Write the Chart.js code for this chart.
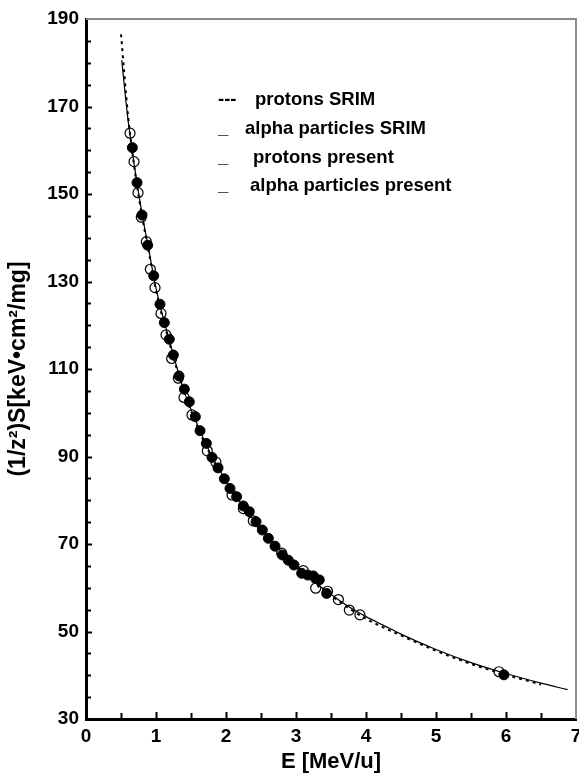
<!DOCTYPE html>
<html>
<head>
<meta charset="utf-8">
<script src="https://cdn.jsdelivr.net/npm/chart.js@4.4.0/dist/chart.umd.min.js"></script>
<style>
	html, body { margin: 0; padding: 0; background: #ffffff; }
	canvas { display: block; }
</style>
</head>
<body>
<canvas id="myChart" width="579" height="776"></canvas>
<script>
// Data (E in MeV/u, S/z^2 in keV cm2/mg)
const srimAlphaE = [0.51, 0.6, 0.7, 0.8, 0.9, 1.0, 1.2, 1.4, 1.6, 1.8, 2.0, 2.25, 2.5, 2.75, 3.0, 3.25, 3.5, 3.75, 4.0, 4.25, 4.5, 5.0, 5.5, 6.0, 6.5, 6.88];
const srimAlphaS = [180.6, 167, 155.5, 145.5, 137, 128.5, 116, 105, 97, 90, 84.5, 78.5, 73.5, 69, 65, 61.5, 58.5, 55.7, 53.4, 51.4, 49.4, 45.9, 42.9, 40.4, 38.2, 36.7];

const srimProtonE = [0.5, 0.6, 0.7, 0.8, 0.9, 1.0, 1.2, 1.4, 1.6, 1.8, 2.0, 2.25, 2.5, 2.75, 3.0, 3.25, 3.5, 3.75, 4.0, 4.5, 5.0, 5.5, 6.0, 6.5];
const srimProtonS = [186.5, 168, 155, 145, 136.5, 128, 115.5, 104.8, 96.5, 89.7, 84, 78, 73, 68.7, 64.7, 61.2, 58.2, 55.4, 52.9, 49.1, 45.6, 42.6, 40.1, 37.9];

const protonPresentE = [0.629, 0.686, 0.743, 0.79, 0.862, 0.919, 0.986, 1.071, 1.143, 1.224, 1.319, 1.4, 1.514, 1.733, 1.857, 2.086, 2.248, 2.39, 2.795, 3.105, 3.281, 3.45, 3.605, 3.762, 3.914, 5.9];
const protonPresentS = [163.9, 157.4, 150.3, 144.7, 139.1, 132.8, 128.6, 122.7, 117.8, 112.4, 107.9, 103.5, 99.5, 91.3, 88.7, 81.2, 78.1, 75.3, 67.9, 63.9, 59.9, 59.2, 57.3, 54.9, 53.8, 40.8];

const alphaPresentE = [0.662, 0.729, 0.8, 0.881, 0.967, 1.057, 1.119, 1.19, 1.248, 1.329, 1.405, 1.476, 1.562, 1.629, 1.719, 1.8, 1.886, 1.976, 2.057, 2.152, 2.248, 2.333, 2.429, 2.519, 2.605, 2.7, 2.805, 2.89, 2.971, 3.081, 3.167, 3.248, 3.333, 3.438, 5.97];
const alphaPresentS = [160.6, 152.6, 145.2, 138.3, 131.3, 124.8, 120.6, 116.8, 113.2, 108.4, 105.4, 102.5, 99.1, 95.9, 93.0, 89.8, 87.4, 84.9, 82.7, 80.8, 78.7, 77.4, 75.1, 73.2, 71.3, 69.5, 67.5, 66.3, 65.2, 63.3, 62.9, 62.7, 61.8, 58.7, 40.1];

const xTicks = [0, 1, 2, 3, 4, 5, 6, 7];
const yTicks = [30, 50, 70, 90, 110, 130, 150, 170, 190];

const legendMarks = ["---", "_", "_", "_"];
const legendLabels = ["protons SRIM", "alpha particles SRIM", "protons present", "alpha particles present"];

function pts(xs, ys) {
	return xs.map((v, i) => ({ x: v, y: ys[i] }));
}

const FONT = "'Liberation Sans', Arial, Helvetica, sans-serif";
const X_TICK_PAD = 6.6;
const Y_TICK_PAD = 7;

// top/right frame and inward tick marks
const frameTicks = {
	id: "frameTicks",
	afterDraw(chart) {
		const ctx = chart.ctx;
		const a = chart.chartArea;
		const x = chart.scales.x;
		const y = chart.scales.y;
		ctx.save();
		ctx.strokeStyle = "#8c8c8c";
		ctx.lineWidth = 2;
		ctx.beginPath();
		ctx.moveTo(a.left, a.top);
		ctx.lineTo(a.right, a.top);
		ctx.lineTo(a.right, a.bottom);
		ctx.stroke();

		ctx.strokeStyle = "#000";
		ctx.lineWidth = 2;
		ctx.beginPath();
		for (let v = 0.5; v < 7; v += 0.5) {
			const px = Math.round(x.getPixelForValue(v)) + 0.5;
			const len = v % 1 === 0 ? 7 : 6;
			ctx.moveTo(px, a.bottom);
			ctx.lineTo(px, a.bottom - len);
		}
		for (let v = 35; v < 190; v += 5) {
			const py = Math.round(y.getPixelForValue(v)) + 0.5;
			const len = v % 20 === 10 ? 6 : 5;
			ctx.moveTo(a.left, py);
			ctx.lineTo(a.left + len, py);
		}
		ctx.stroke();
		ctx.restore();
	},
};

// text legend as in the figure
const textLegend = {
	id: "textLegend",
	afterDraw(chart) {
		const ctx = chart.ctx;
		const rowsY = [100, 129, 158, 186];
		const labelX = [255, 245, 253, 250];
		ctx.save();
		ctx.fillStyle = "#000";
		ctx.font = "bold 18.5px " + FONT;
		ctx.textBaseline = "middle";
		ctx.textAlign = "left";
		legendLabels.forEach((t, i) => {
			ctx.fillText(legendMarks[i], 218, rowsY[i]);
			ctx.fillText(t, labelX[i], rowsY[i]);
		});
		ctx.restore();
	},
};

const ctx = document.getElementById("myChart").getContext("2d");
const myChart = new Chart(ctx, {
	type: "scatter",
	data: {
		datasets: [
			{
				label: "alpha particles present",
				data: pts(alphaPresentE, alphaPresentS),
				pointStyle: "circle",
				pointRadius: 5,
				pointBackgroundColor: "#000",
				pointBorderColor: "#000",
				pointBorderWidth: 1,
				showLine: false,
			},
			{
				label: "protons present",
				data: pts(protonPresentE, protonPresentS),
				pointStyle: "circle",
				pointRadius: 5,
				pointBackgroundColor: "rgba(0,0,0,0)",
				pointBorderColor: "#000",
				pointBorderWidth: 1.2,
				showLine: false,
			},
			{
				label: "protons SRIM",
				data: pts(srimProtonE, srimProtonS),
				showLine: true,
				borderColor: "#000",
				borderWidth: 2,
				borderDash: [3, 4],
				cubicInterpolationMode: "monotone",
				pointRadius: 0,
				fill: false,
			},
			{
				label: "alpha particles SRIM",
				data: pts(srimAlphaE, srimAlphaS),
				showLine: true,
				borderColor: "#000",
				borderWidth: 1.2,
				cubicInterpolationMode: "monotone",
				pointRadius: 0,
				fill: false,
			},
		],
	},
	options: {
		responsive: false,
		animation: false,
		layout: {
			autoPadding: false,
			padding: { top: 19, right: 3, left: 3, bottom: 0 },
		},
		plugins: {
			legend: { display: false },
			tooltip: { enabled: false },
		},
		scales: {
			x: {
				type: "linear",
				min: 0,
				max: 7,
				afterFit: (s) => {
					s.paddingLeft = 0;
					s.paddingRight = 0;
					s.height -= X_TICK_PAD;
				},
				afterBuildTicks: (s) => {
					s.ticks = xTicks.map((v) => ({ value: v }));
				},
				grid: { display: false, drawTicks: false },
				border: { display: true, color: "#000", width: 3 },
				ticks: {
					color: "#000",
					padding: X_TICK_PAD,
					font: { family: FONT, size: 19, weight: "bold" },
				},
				title: {
					display: true,
					text: "E [MeV/u]",
					color: "#000",
					padding: { top: 0.4, bottom: 0.8 },
					font: { family: FONT, size: 22, weight: "bold" },
				},
			},
			y: {
				type: "linear",
				min: 30,
				max: 190,
				afterFit: (s) => {
					s.paddingTop = 0;
					s.paddingBottom = 0;
					s.width -= Y_TICK_PAD;
				},
				afterBuildTicks: (s) => {
					s.ticks = yTicks.map((v) => ({ value: v }));
				},
				grid: { display: false, drawTicks: false },
				border: { display: true, color: "#000", width: 3 },
				ticks: {
					color: "#000",
					padding: Y_TICK_PAD,
					font: { family: FONT, size: 19, weight: "bold" },
				},
				title: {
					display: true,
					text: "(1/z²)S[keV•cm²/mg]",
					color: "#000",
					padding: { top: 2, bottom: 14.7 },
					font: { family: FONT, size: 23, weight: "bold" },
				},
			},
		},
	},
	plugins: [frameTicks, textLegend],
});
</script>
</body>
</html>
